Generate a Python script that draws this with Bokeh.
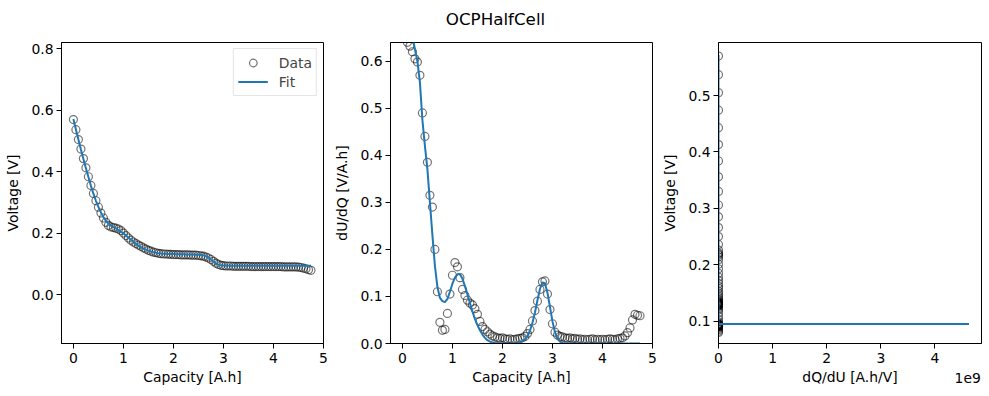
from bokeh.plotting import figure
from bokeh.layouts import row
from bokeh.models import Range1d, FixedTicker, PrintfTickFormatter, CustomJSTickFormatter, Label
from bokeh.embed import file_html
from bokeh.resources import INLINE

# ---------------- data ----------------
capacity = [0.00, 0.05, 0.10, 0.15, 0.20, 0.25, 0.30, 0.35, 0.40, 0.45,
            0.50, 0.55, 0.60, 0.65, 0.70, 0.75, 0.80, 0.85, 0.90, 0.95,
            1.00, 1.05, 1.10, 1.15, 1.20, 1.25, 1.30, 1.35, 1.40, 1.45,
            1.50, 1.55, 1.60, 1.65, 1.70, 1.75, 1.80, 1.85, 1.90, 1.95,
            2.00, 2.05, 2.10, 2.15, 2.20, 2.25, 2.30, 2.35, 2.40, 2.45,
            2.50, 2.55, 2.60, 2.65, 2.70, 2.75, 2.80, 2.85, 2.90, 2.95,
            3.00, 3.05, 3.10, 3.15, 3.20, 3.25, 3.30, 3.35, 3.40, 3.45,
            3.50, 3.55, 3.60, 3.65, 3.70, 3.75, 3.80, 3.85, 3.90, 3.95,
            4.00, 4.05, 4.10, 4.15, 4.20, 4.25, 4.30, 4.35, 4.40, 4.45,
            4.50, 4.55, 4.60, 4.65, 4.70, 4.75]

voltage_data = [0.570, 0.537, 0.505, 0.474, 0.443, 0.413, 0.384, 0.356, 0.330, 0.306,
                0.285, 0.266, 0.250, 0.236, 0.226, 0.221, 0.219, 0.217, 0.214, 0.209,
                0.201, 0.193, 0.185, 0.178, 0.172, 0.167, 0.162, 0.158, 0.153, 0.149,
                0.145, 0.142, 0.139, 0.137, 0.135, 0.134, 0.133, 0.133, 0.132, 0.132,
                0.131, 0.131, 0.131, 0.130, 0.130, 0.130, 0.130, 0.129, 0.129, 0.129,
                0.128, 0.127, 0.126, 0.123, 0.120, 0.115, 0.109, 0.103, 0.099, 0.096,
                0.095, 0.094, 0.094, 0.094, 0.093, 0.093, 0.093, 0.093, 0.093, 0.093,
                0.093, 0.092, 0.092, 0.092, 0.092, 0.092, 0.092, 0.092, 0.092, 0.092,
                0.092, 0.092, 0.092, 0.092, 0.091, 0.091, 0.091, 0.091, 0.091, 0.091,
                0.090, 0.089, 0.087, 0.085, 0.082, 0.080]

dudq_data = [0.700, 0.680, 0.640, 0.632, 0.620, 0.605, 0.598, 0.570, 0.490, 0.440,
             0.385, 0.315, 0.290, 0.200, 0.110, 0.045, 0.028, 0.030, 0.064, 0.105,
             0.145, 0.172, 0.163, 0.140, 0.115, 0.102, 0.092, 0.086, 0.082, 0.074,
             0.062, 0.047, 0.036, 0.030, 0.025, 0.020, 0.016, 0.014, 0.012, 0.011,
             0.012, 0.010, 0.009, 0.010, 0.008, 0.009, 0.010, 0.011, 0.012, 0.015,
             0.021, 0.030, 0.048, 0.070, 0.090, 0.115, 0.131, 0.133, 0.105, 0.072,
             0.042, 0.024, 0.018, 0.015, 0.014, 0.012, 0.011, 0.012, 0.010, 0.011,
             0.009, 0.010, 0.008, 0.009, 0.008, 0.009, 0.010, 0.008, 0.009, 0.008,
             0.009, 0.008, 0.009, 0.010, 0.009, 0.008, 0.010, 0.011, 0.012, 0.016,
             0.023, 0.033, 0.050, 0.062, 0.060, 0.059]

voltage_fit = [0.572, 0.538, 0.505, 0.473, 0.442, 0.412, 0.383, 0.355, 0.329, 0.306,
               0.286, 0.268, 0.253, 0.241, 0.232, 0.225, 0.220, 0.216, 0.211, 0.206,
               0.200, 0.193, 0.186, 0.179, 0.172, 0.166, 0.160, 0.155, 0.151, 0.147,
               0.144, 0.141, 0.139, 0.137, 0.1357, 0.1348, 0.134, 0.1335, 0.133, 0.1328,
               0.1326, 0.1324, 0.1322, 0.132, 0.1318, 0.1316, 0.1314, 0.1312, 0.131, 0.1307,
               0.1303, 0.1297, 0.1285, 0.126, 0.121, 0.115, 0.108, 0.102, 0.098, 0.096,
               0.0955, 0.0953, 0.0952, 0.0951, 0.0950, 0.0950, 0.0950, 0.0950, 0.0950, 0.0950,
               0.0950, 0.0950, 0.0950, 0.0950, 0.0950, 0.0950, 0.0950, 0.0950, 0.0950, 0.0950,
               0.0950, 0.0950, 0.0950, 0.0950, 0.0950, 0.0950, 0.0950, 0.0950, 0.0950, 0.0950,
               0.0950, 0.0950, 0.0950, 0.0950, 0.0950, 0.0950]

dudq_fit = [0.720, 0.705, 0.690, 0.672, 0.655, 0.625, 0.600, 0.555, 0.475, 0.420,
            0.370, 0.300, 0.230, 0.165, 0.120, 0.097, 0.090, 0.088, 0.095, 0.110,
            0.127, 0.140, 0.147, 0.147, 0.138, 0.122, 0.104, 0.086, 0.068, 0.052,
            0.039, 0.028, 0.019, 0.012, 0.007, 0.004, 0.0022, 0.0012, 6e-4, 3e-4,
            2e-4, 1.5e-4, 1.5e-4, 2e-4, 3e-4, 6e-4, 0.0012, 0.0025, 0.005, 0.009,
            0.016, 0.027, 0.044, 0.066, 0.092, 0.116, 0.130, 0.128, 0.108, 0.078,
            0.047, 0.024, 0.011, 0.004, 0.0013, 4e-4, 1e-4, 2.5e-5, 6e-6, 1.3e-6,
            3e-7, 6e-8, 1.5e-8, 6e-9, 3e-9, 2e-9, 1.4e-9, 1.1e-9, 9e-10, 7.5e-10,
            6.5e-10, 5.6e-10, 5e-10, 4.5e-10, 4e-10, 3.7e-10, 3.4e-10, 3.1e-10, 2.9e-10, 2.7e-10,
            2.55e-10, 2.45e-10, 2.35e-10, 2.28e-10, 2.22e-10, 2.16e-10]

dqdu_data = [1.0 / v for v in dudq_data]
dqdu_fit = [1.0 / v for v in dudq_fit]

x_ticks_cap = [0, 1, 2, 3, 4, 5]
y_ticks_v = [0.0, 0.2, 0.4, 0.6, 0.8]
y_ticks_dudq = [0.0, 0.1, 0.2, 0.3, 0.4, 0.5, 0.6]
y_ticks_v3 = [0.1, 0.2, 0.3, 0.4, 0.5]
x_ticks_dqdu = [0, 1e9, 2e9, 3e9, 4e9]

# ---------------- styling ----------------
FONT = "DejaVu Sans"
FS = "13.9px"
BLUE = "#1f77b4"
DATA_ALPHA = 0.55


def make(xr, yr, bl, br, fw, xlabel, ylabel):
    p = figure(frame_width=fw, frame_height=301,
               min_border_left=bl, min_border_right=br,
               min_border_top=42, min_border_bottom=53,
               x_range=Range1d(*xr), y_range=Range1d(*yr),
               output_backend="svg", toolbar_location=None)
    p.grid.visible = False
    p.outline_line_color = "black"
    p.outline_line_width = 1
    p.background_fill_color = "white"
    p.border_fill_color = "white"
    p.xaxis.axis_label = xlabel
    p.yaxis.axis_label = ylabel
    for ax in p.axis:
        ax.axis_line_color = "black"
        ax.major_tick_line_color = "black"
        ax.major_tick_in = 0
        ax.major_tick_out = 5
        ax.minor_tick_line_color = None
        ax.major_label_text_font = FONT
        ax.major_label_text_font_size = FS
        ax.major_label_text_color = "black"
        ax.axis_label_text_font = FONT
        ax.axis_label_text_font_size = FS
        ax.axis_label_text_font_style = "normal"
        ax.axis_label_text_color = "black"
    p.xaxis.major_label_standoff = 4
    p.xaxis.axis_label_standoff = 3
    p.yaxis.major_label_standoff = 3
    p.yaxis.axis_label_standoff = 7
    return p


# Panel 1: voltage vs capacity
p1 = make((-0.238, 5.0), (-0.158, 0.8205), 61, 6, 262, "Capacity [A.h]", "Voltage [V]")
p1.scatter(capacity, voltage_data, size=8, fill_color=None, line_color="black",
           line_alpha=DATA_ALPHA, line_width=1.2, legend_label="Data")
p1.line(capacity, voltage_fit, line_color=BLUE, line_width=2, legend_label="Fit")
p1.xaxis.ticker = FixedTicker(ticks=x_ticks_cap)
p1.yaxis.ticker = FixedTicker(ticks=y_ticks_v)
p1.yaxis.formatter = PrintfTickFormatter(format="%.1f")
lg = p1.legend[0]
lg.location = "top_right"
lg.margin = 6
lg.padding = 4
lg.spacing = 0
lg.glyph_width = 30
lg.glyph_height = 19
lg.label_height = 19
lg.label_standoff = 11
lg.label_text_font = FONT
lg.label_text_font_size = FS
lg.border_line_color = "#cccccc"
lg.background_fill_alpha = 0.8

# Panel 2: dU/dQ vs capacity
p2 = make((-0.238, 5.0), (0.0, 0.6397), 61, 6, 262, "Capacity [A.h]", "dU/dQ [V/A.h]")
p2.scatter(capacity, dudq_data, size=8, fill_color=None, line_color="black",
           line_alpha=DATA_ALPHA, line_width=1.2)
p2.line(capacity, dudq_fit, line_color=BLUE, line_width=2)
p2.xaxis.ticker = FixedTicker(ticks=x_ticks_cap)
p2.yaxis.ticker = FixedTicker(ticks=y_ticks_dudq)
p2.yaxis.formatter = PrintfTickFormatter(format="%.1f")
p2.add_layout(Label(x=1.861, y=0.689, text="OCPHalfCell", text_align="center",
                    text_baseline="middle", text_font=FONT, text_font_size="16.7px",
                    text_color="black"), "above")

# Panel 3: voltage vs dQ/dU
p3 = make((0.0, 4.861e9), (0.0605, 0.594), 60, 8, 263, "dQ/dU [A.h/V]", "Voltage [V]")
p3.scatter(dqdu_data, voltage_data, size=8, fill_color=None, line_color="black",
           line_alpha=DATA_ALPHA, line_width=1.2)
p3.line(dqdu_fit, voltage_fit, line_color=BLUE, line_width=2)
p3.xaxis.ticker = FixedTicker(ticks=x_ticks_dqdu)
p3.xaxis.formatter = CustomJSTickFormatter(code="return (tick/1e9).toFixed(0);")
p3.yaxis.ticker = FixedTicker(ticks=y_ticks_v3)
p3.yaxis.formatter = PrintfTickFormatter(format="%.1f")
p3.add_layout(Label(x=4.605e9, y=0.0, text="1e9", text_align="center",
                    text_baseline="middle", text_font=FONT, text_font_size=FS,
                    text_color="black"), "below")

layout = row(p1, p2, p3)
open("out.html", "w").write(file_html(layout, INLINE))
